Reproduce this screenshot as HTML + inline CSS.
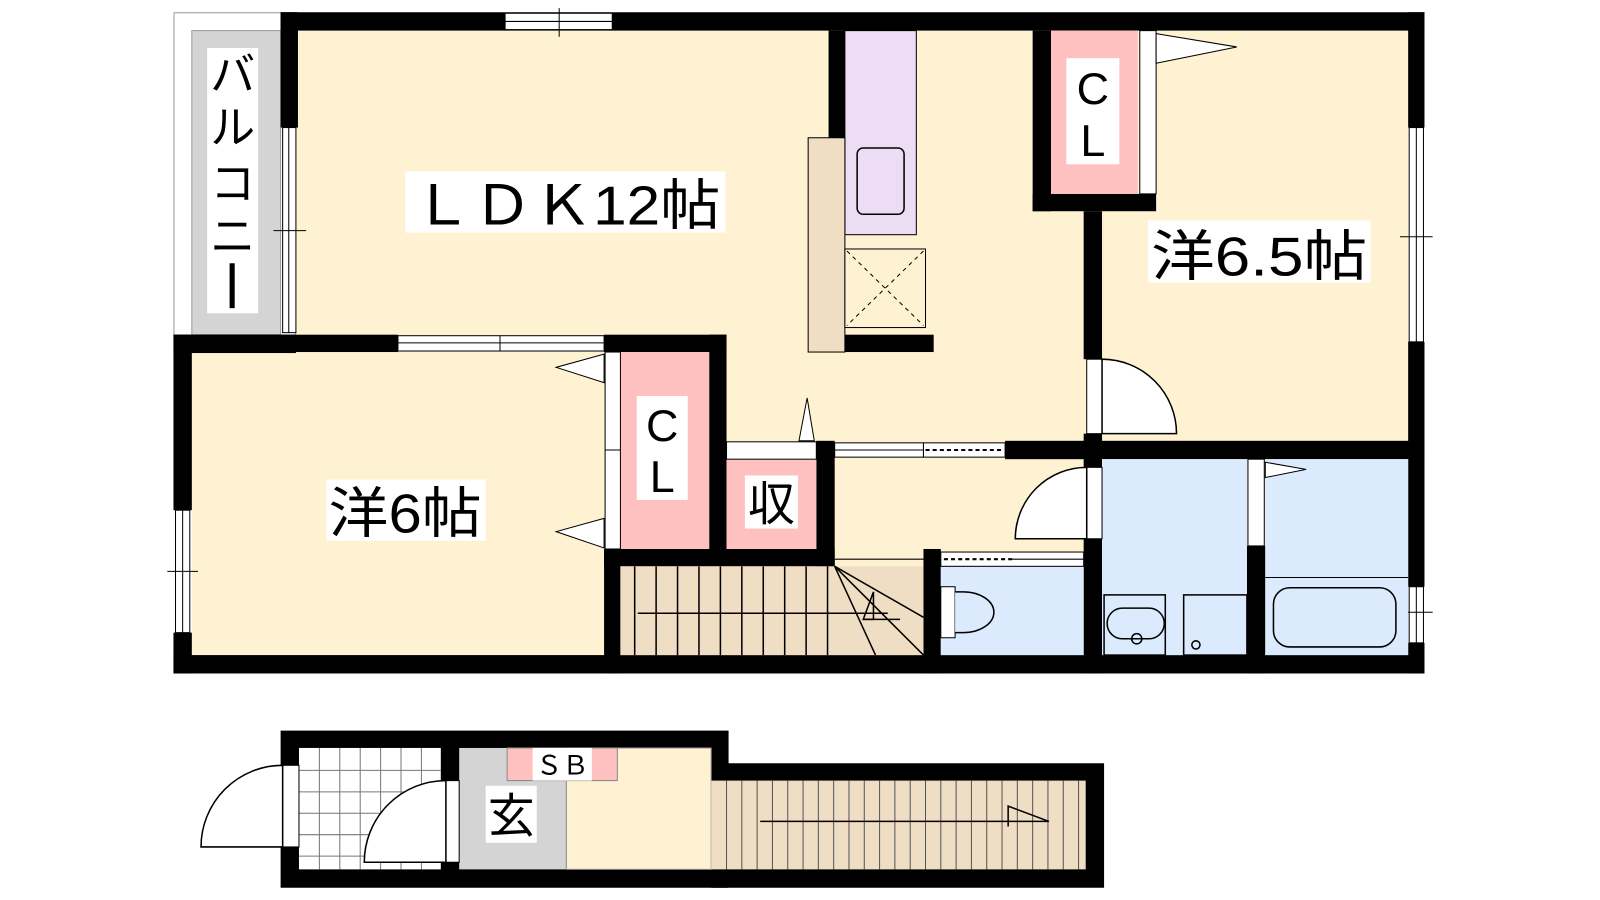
<!DOCTYPE html>
<html><head><meta charset="utf-8"><style>html,body{margin:0;padding:0;background:#fff;width:1600px;height:900px;overflow:hidden}svg{display:block}text{font-family:"Liberation Sans","Noto Sans CJK JP",sans-serif;fill:#000}</style></head><body>
<svg width="1600" height="900" viewBox="0 0 1600 900" xmlns="http://www.w3.org/2000/svg">
<g transform="scale(1.0204)">
<!-- main interior -->
<rect x="290" y="30" width="1090" height="612" fill="#fff2d2"/>
<rect x="188" y="345" width="410" height="297" fill="#fff2d2"/>
<!-- balcony -->
<rect x="170.5" y="12.5" width="119" height="316" fill="#fff" stroke="#999"/>
<rect x="188" y="30" width="87" height="298" fill="#d4d4d4" stroke="#999"/>
<rect x="170" y="328" width="120" height="18" fill="#000"/>
<!-- walls -->
<g fill="#000">
<rect x="275" y="12" width="1121" height="18"/>
<rect x="275" y="12" width="17" height="113"/>
<rect x="170" y="328" width="220" height="17"/>
<rect x="592" y="328" width="120" height="17"/>
<rect x="170" y="328" width="18" height="172"/>
<rect x="170" y="620" width="18" height="40"/>
<rect x="170" y="642" width="1226" height="18"/>
<rect x="1380" y="12" width="16" height="113"/>
<rect x="1380" y="335" width="16" height="240"/>
<rect x="1380" y="630" width="16" height="30"/>
<rect x="1012" y="30" width="18" height="177"/>
<rect x="1012" y="190" width="121" height="17"/>
<rect x="1062" y="207" width="18" height="145"/>
<rect x="1062" y="425" width="18" height="33"/>
<rect x="985" y="432" width="411" height="18"/>
<rect x="695" y="328" width="17" height="212"/>
<rect x="592" y="538" width="226" height="17"/>
<rect x="592" y="538" width="16" height="122"/>
<rect x="800" y="432" width="18" height="123"/>
<rect x="905" y="538" width="17" height="122"/>
<rect x="1062" y="528" width="18" height="132"/>
<rect x="1222" y="535" width="18" height="125"/>
<rect x="812" y="30" width="16" height="105"/>
<rect x="828" y="328" width="87" height="17"/>
</g>
<!-- windows -->
<g fill="#fff" stroke="#000" stroke-width="1">
<rect x="495" y="13" width="105" height="16"/><line x1="495" y1="21" x2="600" y2="21"/><line x1="548" y1="8" x2="548" y2="36"/>
<rect x="277" y="125" width="13" height="201"/><line x1="283" y1="125" x2="283" y2="326"/><line x1="268" y1="226" x2="300" y2="226"/>
<rect x="390" y="329" width="202" height="15"/><line x1="390" y1="336" x2="592" y2="336"/><line x1="490" y1="329" x2="490" y2="344"/>
<rect x="172" y="500" width="14" height="120"/><line x1="179" y1="500" x2="179" y2="620"/><line x1="164" y1="560" x2="194" y2="560"/>
<rect x="1381" y="125" width="14" height="210"/><line x1="1388" y1="125" x2="1388" y2="335"/><line x1="1372" y1="232" x2="1404" y2="232"/>
<rect x="1381" y="575" width="14" height="55"/><line x1="1388" y1="575" x2="1388" y2="630"/><line x1="1372" y1="600" x2="1404" y2="600"/>
</g>
<!-- closets & rooms -->
<rect x="1030" y="30" width="85" height="160" fill="#ffc0c0"/>
<rect x="1117" y="30" width="16" height="160" fill="#fff" stroke="#000"/>
<polygon points="1133,33 1212,46 1133,62" fill="#fff" stroke="#000"/>
<rect x="608" y="345" width="87" height="193" fill="#ffc0c0"/>
<rect x="593" y="345" width="15" height="193" fill="#fff" stroke="#000"/>
<line x1="593" y1="441" x2="608" y2="441" stroke="#000"/>
<polygon points="592,347 545,360 592,375" fill="#fff" stroke="#000"/>
<polygon points="592,508 545,521 592,537" fill="#fff" stroke="#000"/>
<rect x="712" y="450" width="88" height="88" fill="#ffc0c0"/>
<rect x="712" y="433" width="88" height="17" fill="#fff" stroke="#000"/>
<polygon points="783,432 791,390 798,432" fill="#fff" stroke="#000"/>
<!-- sliding door LDK-hall -->
<rect x="818" y="434" width="87" height="14" fill="#fff" stroke="#000"/><line x1="818" y1="441" x2="905" y2="441" stroke="#000"/>
<rect x="905" y="434" width="80" height="14" fill="#fff" stroke="#000"/><line x1="907" y1="441" x2="983" y2="441" stroke="#000" stroke-dasharray="4,3" stroke-width="2"/>
<!-- 6.5 door -->
<rect x="1065" y="352" width="15" height="73" fill="#fff" stroke="#000"/>
<path d="M1080,352 A73,73 0 0 1 1153,425 L1080,425 Z" fill="#fff" stroke="#000" stroke-width="1.5"/>
<!-- stairs -->
<rect x="608" y="555" width="297" height="87" fill="#efdec4"/>
<line x1="818" y1="548" x2="905" y2="548" stroke="#000"/>
<g stroke="#000" stroke-width="1.5">
<line x1="622" y1="555" x2="622" y2="642"/><line x1="643" y1="555" x2="643" y2="642"/><line x1="664" y1="555" x2="664" y2="642"/><line x1="685" y1="555" x2="685" y2="642"/><line x1="706" y1="555" x2="706" y2="642"/><line x1="727" y1="555" x2="727" y2="642"/><line x1="748" y1="555" x2="748" y2="642"/><line x1="769" y1="555" x2="769" y2="642"/><line x1="790" y1="555" x2="790" y2="642"/><line x1="811" y1="555" x2="811" y2="642"/>
<line x1="818" y1="555" x2="905" y2="605"/><line x1="818" y1="555" x2="905" y2="642"/><line x1="818" y1="555" x2="858" y2="642"/>
<line x1="625" y1="601" x2="870" y2="601"/><line x1="846" y1="607" x2="882" y2="607"/>
<polyline points="856,580 856,607 846,607 856,580" fill="none"/>
</g>
<!-- wet areas -->
<rect x="922" y="555" width="140" height="87" fill="#dbeafc"/>
<rect x="922" y="541" width="140" height="14" fill="#fff" stroke="#000"/>
<line x1="925" y1="548" x2="992" y2="548" stroke="#000" stroke-dasharray="4,3" stroke-width="2"/><line x1="992" y1="548" x2="1062" y2="548" stroke="#000"/>
<rect x="922" y="575" width="14" height="50" fill="#fff" stroke="#000"/>
<path d="M936,580 L944,580 A30,20 0 1 1 944,620 L936,620" fill="#dbeafc" stroke="#000" stroke-width="1.5"/>
<rect x="1080" y="450" width="142" height="192" fill="#dbeafc"/>
<rect x="1240" y="450" width="140" height="192" fill="#dbeafc"/>
<rect x="1065" y="458" width="15" height="70" fill="#fff" stroke="#000"/>
<path d="M1065,458 A70,70 0 0 0 995,528 L1065,528 Z" fill="#fff" stroke="#000" stroke-width="1.5"/>
<rect x="1223" y="450" width="16" height="85" fill="#fff" stroke="#000"/>
<polygon points="1240,453 1280,460 1240,468" fill="#fff" stroke="#000"/>
<g fill="none" stroke="#000" stroke-width="1.5">
<rect x="1082" y="583" width="60" height="59"/><rect x="1160" y="583" width="62" height="59"/>
<rect x="1085" y="596" width="56" height="30" rx="15"/><circle cx="1114" cy="626" r="5"/><circle cx="1172" cy="632" r="4"/>
<line x1="1240" y1="566" x2="1380" y2="566" stroke-width="1"/>
<rect x="1248" y="576" width="120" height="58" rx="16"/>
</g>
<!-- kitchen -->
<rect x="828" y="30" width="70" height="200" fill="#ecdcf4" stroke="#000"/>
<rect x="840" y="145" width="46" height="65" rx="6" fill="none" stroke="#000" stroke-width="1.5"/>
<rect x="792" y="135" width="36" height="210" fill="#efdec4" stroke="#000"/>
<rect x="828" y="244" width="79" height="77" fill="#fff2d2" stroke="#000"/>
<path d="M830,246 L905,319 M905,246 L830,319" stroke="#000" stroke-dasharray="4,4"/>
<!-- labels -->
<rect x="203" y="47" width="50" height="260" fill="#fff"/>
<text x="228" y="88" font-size="44" text-anchor="middle">バ</text>
<text x="228" y="140" font-size="44" text-anchor="middle">ル</text>
<text x="228" y="195" font-size="44" text-anchor="middle">コ</text>
<text x="228" y="247" font-size="44" text-anchor="middle">ニ</text>
<rect x="225" y="258" width="5" height="44" fill="#000"/>
<rect x="397" y="168" width="314" height="60" fill="#fff"/>
<text x="404" y="220" font-size="54" textLength="302" lengthAdjust="spacingAndGlyphs">ＬＤＫ12帖</text>
<rect x="1125" y="216" width="218" height="61" fill="#fff"/>
<text x="1128" y="270" font-size="54" textLength="212" lengthAdjust="spacingAndGlyphs">洋6.5帖</text>
<rect x="320" y="470" width="156" height="60" fill="#fff"/>
<text x="322" y="522" font-size="54" textLength="150" lengthAdjust="spacingAndGlyphs">洋6帖</text>
<rect x="1045" y="57" width="52" height="104" fill="#fff"/>
<text x="1071" y="102" font-size="44" text-anchor="middle">C</text><text x="1071" y="153" font-size="44" text-anchor="middle">L</text>
<rect x="624" y="388" width="50" height="102" fill="#fff"/>
<text x="649" y="432" font-size="44" text-anchor="middle">C</text><text x="649" y="482" font-size="44" text-anchor="middle">L</text>
<rect x="730" y="466" width="52" height="52" fill="#fff"/>
<text x="756" y="510" font-size="46" text-anchor="middle">収</text>
<!-- lower floor -->
<rect x="275" y="716" width="439" height="154" fill="#000"/>
<rect x="697" y="748" width="385" height="122" fill="#000"/>
<rect x="293" y="733" width="139" height="119" fill="#fff"/>
<g stroke="#777" stroke-width="1">
<line x1="313" y1="733" x2="313" y2="852"/><line x1="333" y1="733" x2="333" y2="852"/><line x1="353" y1="733" x2="353" y2="852"/><line x1="373" y1="733" x2="373" y2="852"/><line x1="393" y1="733" x2="393" y2="852"/><line x1="413" y1="733" x2="413" y2="852"/>
<line x1="293" y1="755" x2="432" y2="755"/><line x1="293" y1="776" x2="432" y2="776"/><line x1="293" y1="797" x2="432" y2="797"/><line x1="293" y1="818" x2="432" y2="818"/><line x1="293" y1="839" x2="432" y2="839"/>
</g>
<rect x="450" y="733" width="105" height="119" fill="#d4d4d4"/>
<rect x="555" y="733" width="142" height="119" fill="#fff2d2" stroke="#888"/>
<rect x="697" y="765" width="367" height="87" fill="#efdec4"/>
<g stroke="#555" stroke-width="1">
<line x1="712" y1="765" x2="712" y2="852"/><line x1="727" y1="765" x2="727" y2="852"/><line x1="742" y1="765" x2="742" y2="852"/><line x1="757" y1="765" x2="757" y2="852"/><line x1="772" y1="765" x2="772" y2="852"/><line x1="787" y1="765" x2="787" y2="852"/><line x1="802" y1="765" x2="802" y2="852"/><line x1="817" y1="765" x2="817" y2="852"/><line x1="832" y1="765" x2="832" y2="852"/><line x1="847" y1="765" x2="847" y2="852"/><line x1="862" y1="765" x2="862" y2="852"/><line x1="877" y1="765" x2="877" y2="852"/><line x1="892" y1="765" x2="892" y2="852"/><line x1="907" y1="765" x2="907" y2="852"/><line x1="922" y1="765" x2="922" y2="852"/><line x1="937" y1="765" x2="937" y2="852"/><line x1="952" y1="765" x2="952" y2="852"/><line x1="967" y1="765" x2="967" y2="852"/><line x1="982" y1="765" x2="982" y2="852"/><line x1="997" y1="765" x2="997" y2="852"/><line x1="1012" y1="765" x2="1012" y2="852"/><line x1="1027" y1="765" x2="1027" y2="852"/><line x1="1042" y1="765" x2="1042" y2="852"/><line x1="1057" y1="765" x2="1057" y2="852"/>
</g>
<g stroke="#000" stroke-width="1.5" fill="none"><line x1="745" y1="805" x2="1028" y2="805"/><polyline points="988,810 988,790 1028,805"/></g>
<rect x="497" y="733" width="108" height="32" fill="#ffc0c0" stroke="#888"/>
<rect x="522" y="733" width="58" height="32" fill="#fff"/>
<text x="551" y="759" font-size="26" text-anchor="middle">ＳＢ</text>
<rect x="476" y="770" width="50" height="56" fill="#fff"/>
<text x="501" y="816" font-size="46" text-anchor="middle">玄</text>
<rect x="437" y="765" width="13" height="80" fill="#fff" stroke="#000"/>
<path d="M437,765 A80,80 0 0 0 357,845 L437,845 Z" fill="#fff" stroke="#000" stroke-width="1.5"/>
<rect x="277" y="750" width="16" height="80" fill="#fff" stroke="#000"/>
<path d="M277,750 A80,80 0 0 0 197,830 L277,830 Z" fill="#fff" stroke="#000" stroke-width="1.5"/>
</g>
</svg>
</body></html>
